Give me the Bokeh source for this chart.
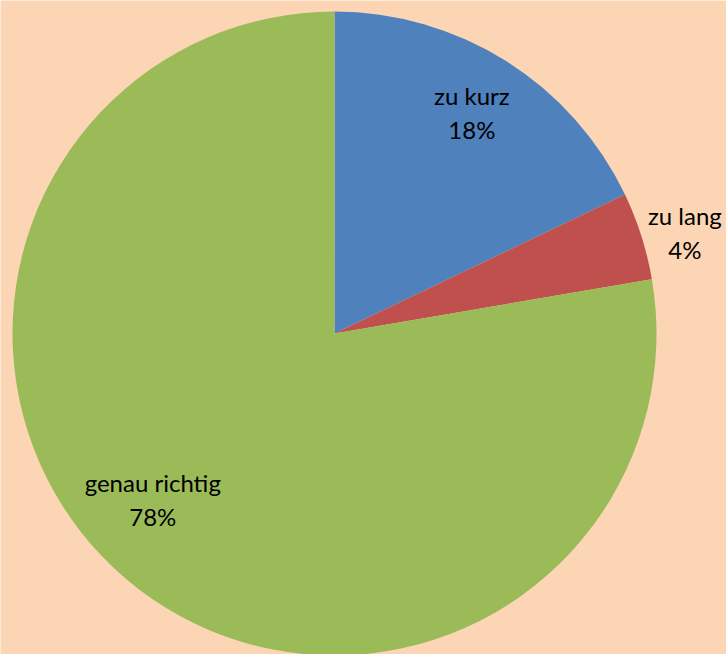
import math
from bokeh.plotting import figure
from bokeh.models import ColumnDataSource
from bokeh.core.properties import value
from bokeh.embed import file_html
from bokeh.resources import INLINE

categories = ["zu kurz", "zu lang", "genau richtig"]
shares = [17.9, 4.4, 77.7]
pct_labels = ["18%", "4%", "78%"]
colors = ["#4F81BD", "#C0504D", "#9BBB59"]

BG = "#FCD5B4"
W, H = 726, 654
cx, cy, R = 334, H - 333, 322
label_rfac = [0.80, 1.13, 0.77]
label_dang = [0.0, -2.0, -7.0]

total = sum(shares)
starts, ends, lx, ly = [], [], [], []
cum = 0.0
for i, s in enumerate(shares):
    a0 = math.pi / 2 - 2 * math.pi * cum / total
    cum += s
    a1 = math.pi / 2 - 2 * math.pi * cum / total
    starts.append(a0)
    ends.append(a1)
    mid = (a0 + a1) / 2 + math.radians(label_dang[i])
    lx.append(cx + R * label_rfac[i] * math.cos(mid))
    ly.append(cy + R * label_rfac[i] * math.sin(mid) + 3)

src = ColumnDataSource(dict(start=starts, end=ends, color=colors,
                            cat=categories, pct=pct_labels, lx=lx, ly=ly,
                            ly1=[y + 17 for y in ly], ly2=[y - 17 for y in ly]))

p = figure(width=W, height=H, x_range=(0, W), y_range=(0, H),
           output_backend="svg", toolbar_location=None, min_border=0)
p.axis.visible = False
p.grid.visible = False
p.outline_line_color = None
p.background_fill_color = BG
p.border_fill_color = BG

p.wedge(x=cx, y=cy, radius=R, start_angle="start", end_angle="end",
        direction="clock", fill_color="color", line_color=None, source=src)

p.text(x="lx", y="ly1", text="cat", source=src, text_font=value("Lato"),
       text_font_size="24px", text_align="center", text_baseline="middle",
       text_color="#000000")
p.text(x="lx", y="ly2", text="pct", source=src, text_font=value("Lato"),
       text_font_size="24px", text_align="center", text_baseline="middle",
       text_color="#000000")

html = file_html(p, INLINE)
html = html.replace("<body>", '<body style="margin:0;background:%s">' % BG, 1)
open("out.html", "w").write(html)
